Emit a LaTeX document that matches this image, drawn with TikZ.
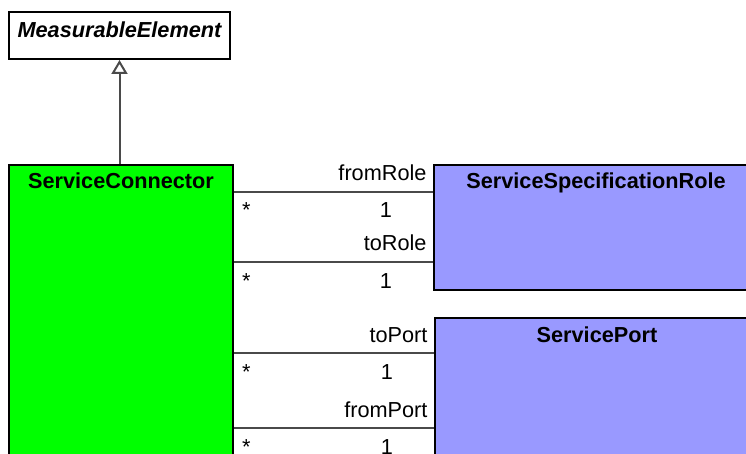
\documentclass[tikz,border=0pt]{standalone}
\usepackage{fontspec}
\setmainfont{Liberation Sans}
\usetikzlibrary{arrows.meta,positioning}
\definecolor{ConnGreen}{HTML}{00FF00}
\definecolor{RoleBlue}{HTML}{9999FF}
\definecolor{LineGray}{HTML}{4A4A4A}
\tikzset{classbox/.style={draw=black,line width=2pt,anchor=north west,inner sep=0pt},
  title/.style={inner sep=0pt,font=\fontsize{21.7}{26}\selectfont\bfseries},
  assoc/.style={draw=LineGray,line width=2pt},
  inherit/.style={draw=LineGray,line width=2pt,-{Triangle[open,width=16pt,length=14pt,fill=white]}},
  rolename/.style={pos=1,anchor=base east,inner sep=0pt,xshift=-5.5pt,yshift=11pt},
  many/.style={pos=0,anchor=base west,inner sep=0pt,xshift=7pt,yshift=-26pt},
  one/.style={pos=1,anchor=base,inner sep=0pt,xshift=-47pt,yshift=-26pt}}

\begin{document}
\begin{tikzpicture}[x=1pt,y=1pt,font=\fontsize{21.7}{26}\selectfont]
\clip (0,0) rectangle (746,-454);
\node[classbox,fill=white,minimum width=221pt,minimum height=47pt] (me) at (8,-11) {};
\node[title,font=\fontsize{21.7}{26}\selectfont\bfseries\itshape,below=11pt of me.north] (metitle) {MeasurableElement};
\node[classbox,fill=ConnGreen,minimum width=224pt,minimum height=316pt] (sc) at (8,-164) {};
\node[title,below=9pt of sc.north] (sctitle) {ServiceConnector};
\node[classbox,fill=RoleBlue,minimum width=324pt,minimum height=125pt] (ssr) at (433,-164) {};
\node[title,below=9pt of ssr.north] (ssrtitle) {ServiceSpecificationRole};
\node[classbox,fill=RoleBlue,minimum width=324pt,minimum height=163pt] (sp) at (434,-317) {};
\node[title,below=10pt of sp.north] (sptitle) {ServicePort};
% generalization
\draw[inherit] (me.south |- sc.north) -- (me.south);
% associations
\draw[assoc] (sc.east |- 0,-192) -- (ssr.west |- 0,-192) node[rolename] (fromrole) {fromRole} node[many] (m1) {*} node[one] (o1) {1};
\draw[assoc] (sc.east |- 0,-262) -- (ssr.west |- 0,-262) node[rolename] (torole) {toRole} node[many] (m2) {*} node[one] (o2) {1};
\draw[assoc] (sc.east |- 0,-353) -- (sp.west |- 0,-353) node[rolename] (toport) {toPort} node[many] (m3) {*} node[one] (o3) {1};
\draw[assoc] (sc.east |- 0,-428) -- (sp.west |- 0,-428) node[rolename] (fromport) {fromPort} node[many] (m4) {*} node[one] (o4) {1};
\end{tikzpicture}
\end{document}
